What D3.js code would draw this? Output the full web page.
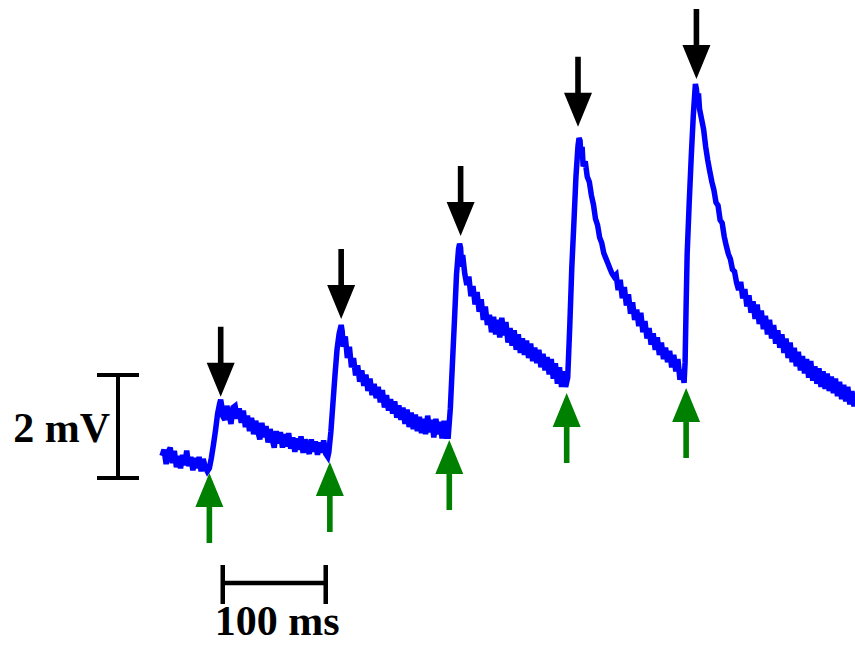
<!DOCTYPE html>
<html>
<head>
<meta charset="utf-8">
<script src="https://cdn.jsdelivr.net/npm/d3@7"></script>
<style>
  html, body { margin: 0; padding: 0; background: #fff; }
  svg { display: block; }
</style>
</head>
<body>
<svg id="chart" width="855" height="645"></svg>
<script>
// ---- Data (time in ms, membrane potential in mV relative to baseline) ----
const traceTime = [
  0,2,4,6,8,10,12,14,16,18,20,22,24,26,28,30,32,34,36,38,40,42,44,46,
  48,50,52,54,56,57,58,59,61,63,65,67,69,71,73,75,77,79,81,83,85,87,89,91,93,95,97,99,
  101,103,105,107,109,111,113,115,117,119,121,123,125,127,129,131,133,135,137,139,141,143,145,147,149,
  151,153,155,157,159,161,
  162,164,166,168,170,172,174,175,176,178,180,182,184,186,188,190,192,194,196,198,200,
  202,204,206,208,210,212,214,216,218,220,222,224,226,228,230,232,234,236,238,240,242,244,246,248,250,
  252,254,256,258,260,262,264,266,268,270,272,274,276,278,
  280,282,284,286,288,289,290,291,292,294,296,298,300,302,304,306,308,310,312,314,316,318,320,
  322,324,326,328,330,332,334,336,338,340,342,344,346,348,350,352,354,356,358,360,362,364,366,368,370,
  372,374,376,378,380,382,384,386,388,390,392,
  394,396,398,400,402,404,405,406,407,408,409,411,413,415,417,419,421,423,425,427,429,431,433,435,437,439,
  441,443,445,447,449,451,453,455,457,459,461,463,465,467,469,471,473,475,477,479,481,483,485,487,489,
  491,493,495,497,499,501,503,505,507,
  508,509,510,512,514,516,518,519,520,521,522,524,526,528,530,532,534,536,538,540,542,544,546,548,550,
  552,554,556,558,560,562,564,566,568,570,572,574,576,578,580,582,584,586,588,590,592,594,596,598,600,
  602,604,606,608,610,612,614,616,618,620,622,624,626,628,630,632,634,636,638,640,642,644,646,648,650,
  652,654,656,658,660,662,664,666,668,670,672,673
];
const traceMV = [
  0.08,0.20,-0.08,0.16,0.24,-0.06,0.18,-0.14,0.08,-0.16,0.10,-0.10,0.18,-0.12,0.06,-0.20,0.04,-0.16,0.06,-0.22,0.02,-0.14,-0.22,-0.16,
  0.05,0.30,0.58,0.90,1.10,1.17,1.05,0.85,0.78,1.05,0.90,0.70,1.02,1.05,0.80,1.00,0.72,0.96,0.64,0.86,0.56,0.82,0.50,0.76,0.56,0.40,0.72,0.44,
  0.66,0.34,0.60,0.40,0.24,0.56,0.32,0.54,0.24,0.50,0.26,0.52,0.22,0.44,0.16,0.42,0.20,0.46,0.14,0.40,0.24,0.12,0.40,0.16,0.36,
  0.10,0.34,0.14,0.38,0.12,0.06,
  0.15,0.55,1.10,1.65,2.15,2.45,2.62,2.50,2.20,2.40,1.98,2.20,1.80,1.98,1.64,1.84,1.52,1.74,1.44,1.66,1.34,
  1.58,1.26,1.48,1.20,1.42,1.12,1.36,1.02,1.26,0.96,1.18,0.90,1.14,0.82,1.06,0.78,1.02,0.70,0.98,0.64,0.92,0.60,0.88,0.56,0.84,
  0.52,0.80,0.50,0.86,0.54,0.78,0.44,0.80,0.50,0.74,0.42,0.76,0.46,0.46,
  1.00,1.85,2.70,3.60,4.10,4.20,4.12,3.75,3.98,3.62,3.40,3.56,3.18,3.38,3.02,3.26,2.88,3.12,2.72,2.98,2.62,2.82,2.48,
  2.78,2.44,2.72,2.38,2.76,2.42,2.68,2.28,2.56,2.22,2.52,2.14,2.44,2.08,2.36,2.04,2.32,1.98,2.26,1.92,2.18,1.88,2.14,1.80,2.06,
  1.74,2.00,1.66,1.96,1.58,1.88,1.48,1.80,1.42,1.72,1.42,
  1.60,2.60,3.75,4.60,5.50,6.10,6.25,6.20,5.88,6.08,5.70,5.80,5.50,5.40,5.14,4.96,4.68,4.56,4.32,4.22,4.02,3.92,3.82,3.72,3.62,3.56,
  3.60,3.30,3.50,3.14,3.36,3.00,3.22,2.84,3.06,2.72,2.92,2.60,2.86,2.48,2.70,2.36,2.56,2.24,2.46,2.14,2.38,2.04,2.28,1.96,2.18,
  1.90,2.12,1.80,2.04,1.72,1.96,1.56,1.76,1.50,
  1.90,3.00,4.00,5.00,5.90,6.70,7.30,7.20,6.98,7.12,6.82,6.62,6.42,6.08,5.82,5.60,5.40,5.24,5.00,4.94,4.66,4.60,4.34,4.16,4.00,
  3.90,3.70,3.66,3.44,3.30,3.46,3.14,3.32,2.98,3.20,2.86,3.08,2.74,3.02,2.64,2.90,2.54,2.80,2.44,2.72,2.36,2.62,2.26,2.52,2.18,
  2.44,2.08,2.36,1.98,2.28,1.90,2.18,1.82,2.10,1.74,2.02,1.68,1.96,1.60,1.92,1.54,1.82,1.48,1.78,1.42,1.72,1.38,1.68,1.34,1.62,
  1.30,1.58,1.24,1.52,1.18,1.46,1.14,1.42,1.08,1.34,1.04,1.20
];
// stimulus onsets (green arrows) and response peaks (black arrows)
const stimTimes  = [46, 163, 279, 393, 509];
const stimLevels = [-0.25, -0.04, 0.39, 1.30, 1.40];
const peakTimes  = [57, 174, 290, 404, 519];
const peakLevels = [1.23, 2.74, 4.35, 6.47, 7.40];
// scale bars
const scaleBarMV = 2;
const scaleBarMS = 100;
const scaleBarLabels = ["2 mV", "100 ms"];

// ---- Drawing ----
const svg = d3.select("#chart");
const x = d3.scaleLinear().domain([0, 673]).range([162, 855]);
const y = d3.scaleLinear().domain([0, 2]).range([460, 357]);

const trace = traceTime.map((t, i) => ({ t, v: traceMV[i] }));

svg.append("path")
  .datum(trace)
  .attr("fill", "none")
  .attr("stroke", "#0000ff")
  .attr("stroke-width", 5.5)
  .attr("stroke-linejoin", "miter")
  .attr("stroke-miterlimit", 3)
  .attr("d", d3.line().x(d => x(d.t)).y(d => y(d.v)));

const arrowLen = 70, headH = 34, headHalf = 14, shaftHalf = 2.8;
function downArrow(cx, tip) {
  const top = tip - arrowLen, hb = tip - headH;
  return `M${cx - shaftHalf},${top}L${cx + shaftHalf},${top}L${cx + shaftHalf},${hb}L${cx + headHalf},${hb}L${cx},${tip}L${cx - headHalf},${hb}L${cx - shaftHalf},${hb}Z`;
}
function upArrow(cx, tip) {
  const bot = tip + arrowLen, hb = tip + headH;
  return `M${cx - shaftHalf},${bot}L${cx + shaftHalf},${bot}L${cx + shaftHalf},${hb}L${cx + headHalf},${hb}L${cx},${tip}L${cx - headHalf},${hb}L${cx - shaftHalf},${hb}Z`;
}

svg.append("g").selectAll("path")
  .data(peakTimes.map((t, i) => ({ t, v: peakLevels[i] })))
  .join("path")
  .attr("fill", "#000")
  .attr("d", d => downArrow(x(d.t), y(d.v)));

svg.append("g").selectAll("path")
  .data(stimTimes.map((t, i) => ({ t, v: stimLevels[i] })))
  .join("path")
  .attr("fill", "#008000")
  .attr("d", d => upArrow(x(d.t), y(d.v)));

// vertical scale bar (2 mV)
const vb = svg.append("g").attr("stroke", "#000").attr("stroke-width", 4);
const vTop = y(1.65), vBot = y(1.65 - scaleBarMV);
vb.append("line").attr("x1", 118).attr("x2", 118).attr("y1", vTop).attr("y2", vBot);
vb.append("line").attr("x1", 97).attr("x2", 139).attr("y1", vTop).attr("y2", vTop);
vb.append("line").attr("x1", 97).attr("x2", 139).attr("y1", vBot).attr("y2", vBot);

// horizontal scale bar (100 ms)
const hL = x(59), hR = x(59 + scaleBarMS);
const hb = svg.append("g").attr("stroke", "#000").attr("stroke-width", 4.5);
hb.append("line").attr("x1", hL).attr("x2", hR).attr("y1", 583).attr("y2", 583);
hb.append("line").attr("x1", hL).attr("x2", hL).attr("y1", 565).attr("y2", 604);
hb.append("line").attr("x1", hR).attr("x2", hR).attr("y1", 565).attr("y2", 604);

svg.append("text")
  .attr("x", 110).attr("y", 442)
  .attr("text-anchor", "end")
  .attr("font-family", "'Liberation Serif', 'Times New Roman', serif")
  .attr("font-weight", "bold")
  .attr("font-size", 42)
  .text(scaleBarLabels[0]);

svg.append("text")
  .attr("x", (hL + hR) / 2 + 3).attr("y", 635)
  .attr("text-anchor", "middle")
  .attr("font-family", "'Liberation Serif', 'Times New Roman', serif")
  .attr("font-weight", "bold")
  .attr("font-size", 42)
  .text(scaleBarLabels[1]);
</script>
</body>
</html>
